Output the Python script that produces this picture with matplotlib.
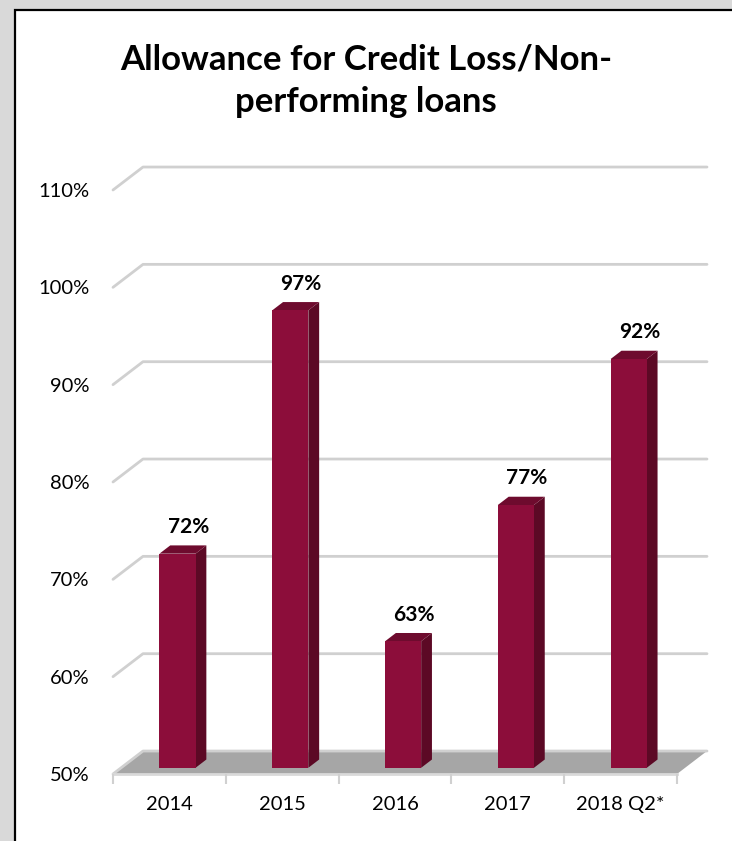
import numpy as np
import matplotlib.pyplot as plt
from matplotlib.patches import Polygon, Rectangle

plt.rcParams['font.family'] = ['Lato', 'DejaVu Sans']

categories = ['2014', '2015', '2016', '2017', '2018 Q2*']
ratios = [72, 97, 63, 77, 92]          # allowance / NPL, percent
y_ticks = [50, 60, 70, 80, 90, 100, 110]
y_labels = ['%d%%' % t for t in y_ticks]

# fake 3d: offset of the back wall relative to the front plane (data units)
DX, DY = 0.266, 2.36
BAR_W = 0.32
D0, D1 = 0.27, 0.63     # depth slice occupied by the bars

FRONT = '#8c0d3a'
SIDE = '#5c0925'
TOP = '#6e0b2e'
GRID = '#d0d0d0'
FLOOR = '#a6a6a6'


def proj(x, y, d):
  return (x + d * DX, y + d * DY)


fig = plt.figure(figsize=(7.32, 8.41), dpi=100)
fig.patch.set_facecolor('#d9d9d9')
fig.patches.append(Rectangle((15 / 732, -0.05), 1.0, 1 - 10 / 841 + 0.05,
                             transform=fig.transFigure, facecolor='white',
                             edgecolor='black', linewidth=1.6, zorder=-5))

ax = fig.add_axes([113 / 732, 1 - 774 / 841, 564 / 732, 584 / 841])
ax.set_zorder(2)
ax.set_facecolor('none')
n = len(categories)
x0, x1 = -0.5, n - 0.5
ax.set_xlim(x0, x1)
ax.set_ylim(y_ticks[0], y_ticks[-1])
for s in ax.spines.values():
  s.set_visible(False)

# floor
floor = [proj(x0, 50, 0), proj(x1, 50, 0), proj(x1, 50, 1), proj(x0, 50, 1)]
ax.add_patch(Polygon(floor, closed=True, facecolor=FLOOR, edgecolor='none',
                     clip_on=False, zorder=1))
ax.plot([x0, x1], [50, 50], color='#d9d9d9', lw=2, clip_on=False, zorder=1.5)

# side wall diagonals + back wall gridlines
for t in y_ticks:
  pts = [proj(x0, t, 0), proj(x0, t, 1), proj(x1, t, 1)]
  ax.plot([p[0] for p in pts], [p[1] for p in pts], color=GRID, lw=2.0,
          solid_capstyle='round', clip_on=False, zorder=1.2)

# bars
for i, v in enumerate(ratios):
  l, r = i - BAR_W / 2, i + BAR_W / 2
  front = [proj(l, 50, D0), proj(r, 50, D0), proj(r, v, D0), proj(l, v, D0)]
  side = [proj(r, 50, D0), proj(r, 50, D1), proj(r, v, D1), proj(r, v, D0)]
  top = [proj(l, v, D0), proj(r, v, D0), proj(r, v, D1), proj(l, v, D1)]
  ax.add_patch(Polygon(side, closed=True, facecolor=SIDE, edgecolor='none',
                       clip_on=False, zorder=3))
  ax.add_patch(Polygon(top, closed=True, facecolor=TOP, edgecolor='none',
                       clip_on=False, zorder=3))
  ax.add_patch(Polygon(front, closed=True, facecolor=FRONT, edgecolor='none',
                       clip_on=False, zorder=4))
  ax.annotate('%d%%' % v, xy=proj(i, v, D1), xytext=(0, 6),
              textcoords='offset points', ha='center', va='bottom',
              fontsize=15, fontweight='bold', color='black', zorder=5,
              annotation_clip=False)

# axes ticks
ax.set_yticks(y_ticks)
ax.set_yticklabels(y_labels, fontsize=14.5)
ax.tick_params(axis='y', length=0, pad=17)
ax.set_xticks(range(n))
ax.set_xticklabels(categories, fontsize=14.5)
ax.set_xticks(np.arange(x0, x1 + 0.01, 1), minor=True)
ax.tick_params(axis='x', which='major', length=0, pad=16)
ax.tick_params(axis='x', which='minor', length=7, width=1.5, color=GRID)

fig.text(0.5, 1 - 81 / 841, 'Allowance for Credit Loss/Non-\nperforming loans',
         ha='center', va='center', fontsize=25, fontweight='bold',
         linespacing=1.4)

fig.savefig('out.png', dpi=100, facecolor=fig.get_facecolor())
